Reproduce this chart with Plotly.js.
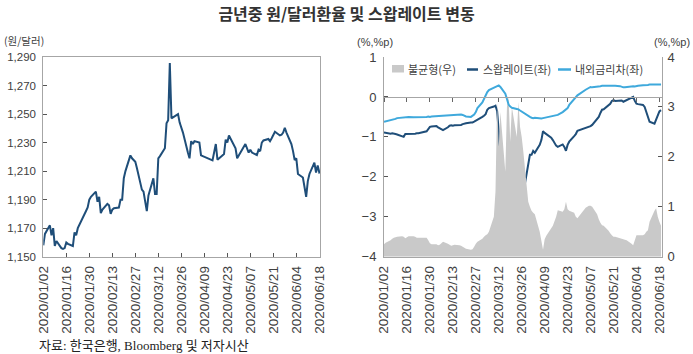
<!DOCTYPE html>
<html><head><meta charset="utf-8">
<script src="https://cdn.plot.ly/plotly-3.0.1.min.js"></script>
<style>html,body{margin:0;padding:0;background:#fff;}#c{width:693px;height:354px;}</style>
</head><body><div id="c"></div>
<script>
const dates = ['2020-01-02','2020-01-03','2020-01-06','2020-01-07','2020-01-08','2020-01-09','2020-01-10','2020-01-13','2020-01-14','2020-01-15','2020-01-16','2020-01-17','2020-01-20','2020-01-21','2020-01-22','2020-01-23','2020-01-28','2020-01-29','2020-01-30','2020-01-31',
'2020-02-03','2020-02-04','2020-02-05','2020-02-06','2020-02-07','2020-02-10','2020-02-11','2020-02-12','2020-02-13','2020-02-14','2020-02-17','2020-02-18','2020-02-19','2020-02-20','2020-02-21','2020-02-24','2020-02-25','2020-02-26','2020-02-27','2020-02-28',
'2020-03-02','2020-03-03','2020-03-04','2020-03-05','2020-03-06','2020-03-09','2020-03-10','2020-03-11','2020-03-12','2020-03-13','2020-03-16','2020-03-17','2020-03-18','2020-03-19','2020-03-20','2020-03-23','2020-03-24','2020-03-25','2020-03-26','2020-03-27','2020-03-30','2020-03-31',
'2020-04-01','2020-04-02','2020-04-03','2020-04-06','2020-04-07','2020-04-08','2020-04-09','2020-04-10','2020-04-13','2020-04-14','2020-04-16','2020-04-17','2020-04-20','2020-04-21','2020-04-22','2020-04-23','2020-04-24','2020-04-27','2020-04-28','2020-04-29',
'2020-05-04','2020-05-06','2020-05-07','2020-05-08','2020-05-11','2020-05-12','2020-05-13','2020-05-14','2020-05-15','2020-05-18','2020-05-19','2020-05-20','2020-05-21','2020-05-22','2020-05-25','2020-05-26','2020-05-27','2020-05-28','2020-05-29',
'2020-06-01','2020-06-02','2020-06-03','2020-06-04','2020-06-05','2020-06-08','2020-06-09','2020-06-10','2020-06-11','2020-06-12','2020-06-15','2020-06-16','2020-06-17','2020-06-18','2020-06-19'];

// 원/달러 환율
const usdkrw = [1158,1166,1172,1165,1170,1157.6,1161,1156,1155.5,1156,1160,1159,1157.5,1167,1165,1170,1182,1184.5,1190,1192,
1195.6,1188.5,1192,1180.5,1183,1187,1186,1180,1183,1184,1184.5,1190,1190,1205,1210,1221,1219,1218,1216.5,1212,
1197,1195.6,1188,1182,1193,1205,1194,1194,1219,1220.5,1226,1243.5,1245.7,1285.7,1247,1249,1250,1244,1241,1237,1223,1219,
1231,1229,1231,1230,1221,1220.5,1220,1219,1218,1217.5,1229,1218,1221,1222,1232,1230,1235,1227.5,1226,1219,
1229,1223,1225,1223,1221.3,1225,1224,1230,1231.5,1232.5,1231,1233,1235.5,1237.6,1235,1235.5,1237,1240.4,1237,
1229,1224,1217.7,1219,1208,1205.5,1200,1192,1203,1208,1216,1209,1214,1209,1209.5];

// 스왑레이트(좌)
const swapRate = [-0.89,-0.90,-0.92,-0.91,-0.93,-0.93,-0.94,-0.98,-1.00,-0.93,-0.93,-0.93,-0.92,-0.92,-0.91,-0.91,-0.86,-0.80,-0.75,-0.74,
-0.73,-0.76,-0.78,-0.80,-0.83,-0.76,-0.72,-0.71,-0.72,-0.71,-0.71,-0.70,-0.68,-0.66,-0.66,-0.64,-0.64,-0.62,-0.60,-0.58,
-0.50,-0.47,-0.43,-0.32,-0.28,-0.24,-0.22,-0.35,-0.87,-2.62,-2.04,-3.46,-2.04,-3.29,-1.87,-2.50,-2.87,-2.96,-2.75,-2.40,-1.60,-1.45,
-1.45,-1.35,-1.40,-1.20,-1.08,-0.86,-0.90,-0.93,-1.02,-1.08,-1.22,-1.25,-1.19,-1.25,-1.35,-1.20,-1.12,-0.98,-0.93,-0.85,
-0.78,-0.76,-0.73,-0.70,-0.56,-0.50,-0.40,-0.32,-0.31,-0.22,-0.17,-0.10,-0.08,-0.10,-0.09,-0.09,-0.12,-0.10,-0.06,
-0.01,0.00,-0.10,-0.17,-0.18,-0.20,-0.25,-0.38,-0.50,-0.62,-0.67,-0.55,-0.44,-0.36,-0.33];

// 내외금리차(좌)
const rateDiff = [-0.62,-0.61,-0.58,-0.58,-0.56,-0.55,-0.53,-0.52,-0.51,-0.50,-0.50,-0.50,-0.51,-0.51,-0.51,-0.50,-0.50,-0.49,-0.50,-0.49,
-0.48,-0.48,-0.48,-0.47,-0.47,-0.46,-0.46,-0.46,-0.45,-0.45,-0.44,-0.44,-0.45,-0.47,-0.49,-0.50,-0.47,-0.44,-0.38,-0.28,
-0.14,-0.05,0.04,0.12,0.17,0.24,0.26,0.27,0.29,0.25,0.08,-0.05,-0.19,-0.24,-0.27,-0.30,-0.31,-0.34,-0.37,-0.40,-0.47,-0.50,
-0.52,-0.53,-0.52,-0.54,-0.54,-0.53,-0.52,-0.51,-0.48,-0.48,-0.46,-0.45,-0.38,-0.35,-0.33,-0.28,-0.20,-0.05,0.00,0.04,
0.18,0.24,0.25,0.24,0.25,0.26,0.27,0.28,0.28,0.29,0.28,0.29,0.28,0.28,0.27,0.25,0.24,0.24,0.25,
0.26,0.27,0.26,0.27,0.28,0.29,0.29,0.30,0.30,0.31,0.31,0.30,0.30,0.31,0.31];

// 불균형(우)
const imbalance = [0.25,0.28,0.33,0.36,0.38,0.39,0.40,0.41,0.40,0.37,0.39,0.41,0.41,0.40,0.38,0.38,0.38,0.33,0.27,0.25,
0.25,0.23,0.24,0.27,0.30,0.26,0.24,0.22,0.23,0.24,0.23,0.22,0.20,0.18,0.16,0.14,0.15,0.20,0.26,0.30,
0.36,0.40,0.43,0.45,0.50,0.80,1.30,3.10,2.20,2.90,1.70,3.00,3.20,2.30,3.00,2.40,3.10,2.60,2.40,2.10,1.10,1.00,
0.92,0.88,0.85,0.50,0.32,0.14,0.35,0.42,0.57,0.62,0.80,0.93,0.90,0.95,1.10,0.95,0.92,0.88,0.80,0.77,
0.98,1.02,1.02,1.00,0.85,0.75,0.68,0.63,0.62,0.52,0.47,0.43,0.40,0.40,0.37,0.36,0.35,0.34,0.33,
0.26,0.23,0.33,0.43,0.43,0.43,0.45,0.50,0.53,0.70,0.92,0.97,0.80,0.70,0.62];

const tickDates = ['2020-01-02','2020-01-16','2020-01-30','2020-02-13','2020-02-27','2020-03-12','2020-03-26','2020-04-09','2020-04-23','2020-05-07','2020-05-21','2020-06-04','2020-06-18'];
const tickLabels = ['2020/01/02','2020/01/16','2020/01/30','2020/02/13','2020/02/27','2020/03/12','2020/03/26','2020/04/09','2020/04/23','2020/05/07','2020/05/21','2020/06/04','2020/06/18'];
const krwTicks = [1150,1170,1190,1210,1230,1250,1270,1290];

const seriesNames = ['불균형(우)','스왑레이트(좌)','내외금리차(좌)'];
const colors = {krw:'#1f4e79', swap:'#1f4e79', diff:'#3fa9dc', imb:'#c9c9c9'};

const W = 693, H = 354;
const px = v => v / W;
const py = v => 1 - v / H;

const tickFont = {family:'Liberation Sans, Arial, sans-serif', size:13.5, color:'#404040'};
const axisLine = '#a6a6a6';

const traces = [
  {x:dates, y:usdkrw, type:'scatter', mode:'lines', xaxis:'x', yaxis:'y',
   line:{color:colors.krw, width:2}, showlegend:false, hoverinfo:'skip'},
  {x:dates, y:imbalance, type:'scatter', mode:'none', fill:'tozeroy', fillcolor:colors.imb,
   xaxis:'x2', yaxis:'y3', name:seriesNames[0], showlegend:false},
  {x:dates, y:rateDiff, type:'scatter', mode:'lines', xaxis:'x3', yaxis:'y2',
   line:{color:colors.diff, width:2}, name:seriesNames[2], showlegend:false},
  {x:dates, y:swapRate, type:'scatter', mode:'lines', xaxis:'x2', yaxis:'y2',
   line:{color:colors.swap, width:2}, name:seriesNames[1], showlegend:false}
];

const yDom = [py(256.7), py(57)];
const xRangeR = ['2020-01-02', '2020-06-19 14:00'];

const layout = {
  width:W, height:H, margin:{l:0,r:0,t:0,b:0},
  paper_bgcolor:'#fff', plot_bgcolor:'rgba(0,0,0,0)',
  showlegend:false,
  title:{text:'금년중 원/달러환율 및 스왑레이트 변동', x:0.5, xanchor:'center', y:py(14), yref:'paper', yanchor:'middle',
         font:{family:'Noto Sans CJK KR, sans-serif', size:16, weight:'bold', color:'#333'}},
  xaxis:{domain:[px(43.3), px(320)], anchor:'y', type:'date', range:['2020-01-02','2020-06-18 10:00'],
         tickmode:'array', tickvals:tickDates, ticktext:tickLabels, tickangle:-90, tickfont:tickFont,
         ticks:'inside', ticklen:4, tickcolor:'#555', showline:true, mirror:true, linecolor:axisLine, linewidth:1,
         showgrid:false, zeroline:false, ticklabelstandoff:3},
  yaxis:{domain:yDom, anchor:'x', range:[1150,1290], tickmode:'array', tickvals:krwTicks, tickformat:',d', tickfont:{...tickFont, size:11.5},
         ticks:'inside', ticklen:4, tickcolor:'#555', showline:true, mirror:true, linecolor:axisLine, linewidth:1,
         showgrid:false, zeroline:false, ticklabelstandoff:4},
  xaxis2:{domain:[px(384), px(662)], anchor:'y2', type:'date', range:xRangeR,
          tickmode:'array', tickvals:tickDates, ticktext:tickLabels, tickangle:-90, tickfont:tickFont,
          ticks:'', showline:true, linecolor:axisLine, linewidth:1, showgrid:false, zeroline:false, ticklabelstandoff:3},
  xaxis3:{overlaying:'x2', anchor:'free', position:py(96.7), side:'bottom', type:'date', range:xRangeR,
          tickmode:'array', tickvals:tickDates, showticklabels:false, ticks:'outside', ticklen:4, tickcolor:'#666',
          showline:true, linecolor:axisLine, linewidth:1, showgrid:false, zeroline:false},
  yaxis2:{domain:yDom, anchor:'x2', range:[-4,1], dtick:1, tickfont:{...tickFont, size:13},
          ticks:'inside', ticklen:4, tickcolor:'#555', showline:true, linecolor:axisLine, linewidth:1,
          showgrid:false, zeroline:false, ticklabelstandoff:4},
  yaxis3:{overlaying:'y2', side:'right', anchor:'x2', range:[0,4], dtick:1, tickfont:{...tickFont, size:13},
          ticks:'inside', ticklen:4, tickcolor:'#555', showline:true, linecolor:axisLine, linewidth:1,
          showgrid:false, zeroline:false, ticklabelstandoff:2},
  shapes:[
    {type:'rect', xref:'paper', yref:'paper', x0:px(392), x1:px(404), y0:py(65), y1:py(72.5), fillcolor:colors.imb, line:{width:0}},
    {type:'line', xref:'paper', yref:'paper', x0:px(467), x1:px(478), y0:py(69.5), y1:py(69.5), line:{color:colors.swap, width:2.5}},
    {type:'line', xref:'paper', yref:'paper', x0:px(558), x1:px(571), y0:py(69.5), y1:py(69.5), line:{color:colors.diff, width:2.5}}
  ],
  annotations:[
    {text:seriesNames[0], xref:'paper', yref:'paper', x:px(406), y:py(69), xanchor:'left', yanchor:'middle', showarrow:false,
     font:{family:'Noto Sans CJK KR, sans-serif', size:11, color:'#404040'}},
    {text:seriesNames[1], xref:'paper', yref:'paper', x:px(481), y:py(69), xanchor:'left', yanchor:'middle', showarrow:false,
     font:{family:'Noto Sans CJK KR, sans-serif', size:11, color:'#404040'}},
    {text:seriesNames[2], xref:'paper', yref:'paper', x:px(573), y:py(69), xanchor:'left', yanchor:'middle', showarrow:false,
     font:{family:'Noto Sans CJK KR, sans-serif', size:11, color:'#404040'}},
    {text:'(원/달러)', xref:'paper', yref:'paper', x:px(2), y:py(41), xanchor:'left', yanchor:'middle', showarrow:false,
     font:{family:'Noto Sans CJK KR, sans-serif', size:10.5, color:'#404040'}},
    {text:'(%,%p)', xref:'paper', yref:'paper', x:px(355), y:py(42), xanchor:'left', yanchor:'middle', showarrow:false,
     font:{family:'Liberation Sans, sans-serif', size:11, color:'#404040'}},
    {text:'(%,%p)', xref:'paper', yref:'paper', x:px(692), y:py(42), xanchor:'right', yanchor:'middle', showarrow:false,
     font:{family:'Liberation Sans, sans-serif', size:11, color:'#404040'}},
    {text:'자료: 한국은행, Bloomberg 및 저자시산', xref:'paper', yref:'paper', x:px(37), y:py(345), xanchor:'left', yanchor:'middle', showarrow:false,
     font:{family:'Liberation Serif, Noto Sans CJK KR, serif', size:13, color:'#222'}}
  ]
};

Plotly.newPlot('c', traces, layout, {staticPlot:true, displayModeBar:false});
</script>
</body></html>
